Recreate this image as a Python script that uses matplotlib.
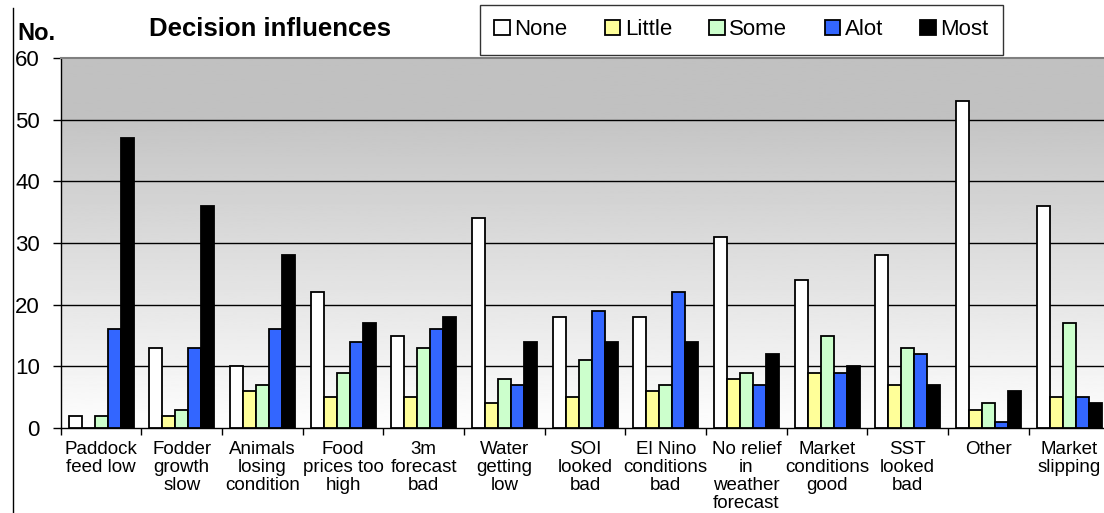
import numpy as np
import matplotlib
matplotlib.use("Agg")
import matplotlib.pyplot as plt
from matplotlib.lines import Line2D

plt.rcParams["font.family"] = ["Liberation Sans", "DejaVu Sans"]

categories = [
    "Paddock\nfeed low", "Fodder\ngrowth\nslow", "Animals\nlosing\ncondition",
    "Food\nprices too\nhigh", "3m\nforecast\nbad", "Water\ngetting\nlow",
    "SOI\nlooked\nbad", "El Nino\nconditions\nbad", "No relief\nin\nweather\nforecast",
    "Market\nconditions\ngood", "SST\nlooked\nbad", "Other", "Market\nslipping",
]
series_names = ["None", "Little", "Some", "Alot", "Most"]
none_vals = [2, 13, 10, 22, 15, 34, 18, 18, 31, 24, 28, 53, 36]
little_vals = [0, 2, 6, 5, 5, 4, 5, 6, 8, 9, 7, 3, 5]
some_vals = [2, 3, 7, 9, 13, 8, 11, 7, 9, 15, 13, 4, 17]
alot_vals = [16, 13, 16, 14, 16, 7, 19, 22, 7, 9, 12, 1, 5]
most_vals = [47, 36, 28, 17, 18, 14, 14, 14, 12, 10, 7, 6, 4]
yticks = [0, 10, 20, 30, 40, 50, 60]

colors = ["#ffffff", "#ffff99", "#ccffcc", "#3366ff", "#000000"]
series = [none_vals, little_vals, some_vals, alot_vals, most_vals]

fig = plt.figure(figsize=(11.04, 5.13), dpi=100)
ax = fig.add_axes([60.7 / 1104, 85 / 513, 1048.7 / 1104, 370 / 513])

# grey-to-white background behind the bars
shade = np.concatenate([np.full(40, 0.755), np.linspace(0.77, 0.995, 200)])
ax.imshow(shade[:, None], cmap="gray", vmin=0, vmax=1, aspect="auto",
          extent=(-0.5, len(categories) - 0.5, 0, 60), zorder=0)

x = np.arange(len(categories))
w = 0.161
for j, (name, vals) in enumerate(zip(series_names, series)):
    ax.bar(x + (j - 2) * w, vals, width=w, color=colors[j], edgecolor="black",
           linewidth=1.3, label=name, zorder=3)

ax.set_xlim(-0.5, len(categories) - 0.5)
ax.set_ylim(0, 60)
for y in yticks[1:-1]:
    ax.axhline(y, color="black", linewidth=1.0, zorder=1)

ax.set_yticks(yticks)
ax.set_yticklabels([str(v) for v in yticks], fontsize=16)
ax.tick_params(axis="y", length=6, width=1, pad=9, direction="out")

ax.set_xticks(x)
ax.set_xticklabels(categories, fontsize=13.5, linespacing=1.08)
ax.tick_params(axis="x", length=0, pad=9)
ax.set_xticks(np.arange(len(categories) + 1) - 0.5, minor=True)
ax.tick_params(axis="x", which="minor", length=5, width=1, direction="out")

ax.spines["right"].set_visible(False)
ax.spines["top"].set_color("#808080")
ax.spines["top"].set_linewidth(1.5)
ax.spines["left"].set_linewidth(1.0)
ax.spines["bottom"].set_linewidth(1.0)

fig.text(17 / 1104, 1 - 40 / 513, "No.", fontsize=17, fontweight="bold")
fig.text(270 / 1104, 1 - 29 / 513, "Decision influences", fontsize=18.5,
         fontweight="bold", ha="center", va="center")

leg = fig.legend(loc="center", ncol=5, mode="expand",
                 bbox_to_anchor=(480 / 1104, 1 - 55 / 513, 523 / 1104, 50 / 513),
                 fontsize=16, frameon=True, fancybox=False, edgecolor="black",
                 handlelength=0.7, handleheight=0.7, handletextpad=0.2,
                 borderpad=0.65, borderaxespad=0)
leg.get_frame().set_linewidth(1.0)

fig.add_artist(Line2D([13 / 1104, 13 / 1104], [0, 1 - 8 / 513], color="black", linewidth=1.0))

fig.savefig("out.png", dpi=100)
